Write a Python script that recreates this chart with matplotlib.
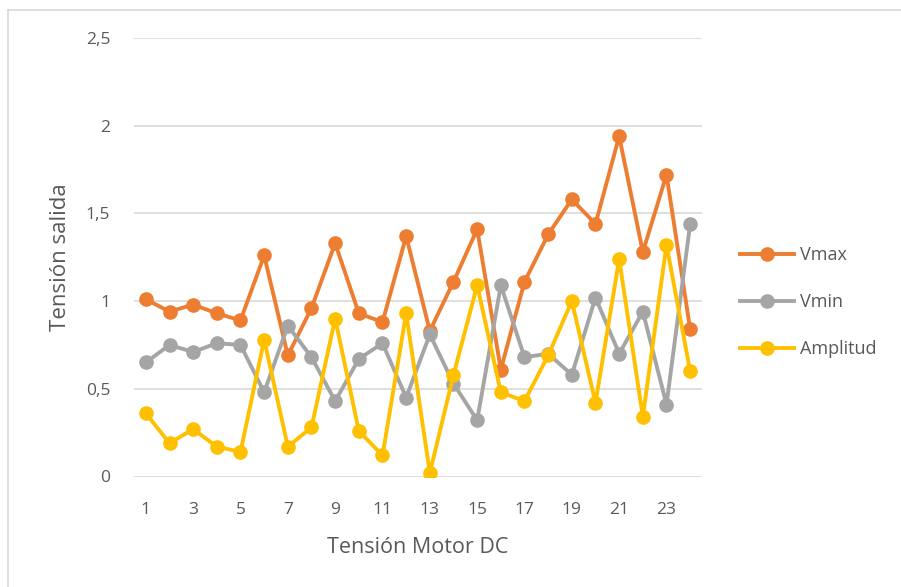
import matplotlib.pyplot as plt
from matplotlib.lines import Line2D

# Lecturas de tension por cada paso del motor
pasos = list(range(1, 25))
vmax = [1.01, 0.94, 0.98, 0.93, 0.89, 1.26, 0.69, 0.96, 1.33, 0.93, 0.88, 1.37,
        0.83, 1.11, 1.41, 0.61, 1.11, 1.38, 1.58, 1.44, 1.94, 1.28, 1.72, 0.84]
vmin = [0.65, 0.75, 0.71, 0.76, 0.75, 0.48, 0.86, 0.68, 0.43, 0.67, 0.76, 0.45,
        0.81, 0.53, 0.32, 1.09, 0.68, 0.70, 0.58, 1.02, 0.70, 0.94, 0.41, 1.44]
amplitud = [0.36, 0.19, 0.27, 0.17, 0.14, 0.78, 0.17, 0.28, 0.90, 0.26, 0.12, 0.93,
            0.02, 0.58, 1.09, 0.48, 0.43, 0.69, 1.00, 0.42, 1.24, 0.34, 1.32, 0.60]
yticks = [0, 0.5, 1, 1.5, 2, 2.5]
ytick_labels = ['0', '0,5', '1', '1,5', '2', '2,5']

plt.rcParams['font.family'] = ['Open Sans', 'DejaVu Sans']
texto = '#595959'

fig = plt.figure(figsize=(9.01, 5.87), dpi=100)
ax = fig.add_axes([134 / 901, 1 - 476.5 / 587, (702 - 134) / 901, (476.5 - 38) / 587])

series = [('Vmax', vmax, '#ED7D31'), ('Vmin', vmin, '#A5A5A5'), ('Amplitud', amplitud, '#FFC000')]
for nombre, valores, color in series:
    ax.plot(pasos, valores, color=color, lw=2.8, marker='o', markersize=9.5,
            solid_capstyle='round', solid_joinstyle='round', label=nombre)

ax.set_xlim(0.5, 24.5)
ax.set_ylim(0, 2.5)
ax.set_yticks(yticks)
ax.set_yticklabels(ytick_labels)
ax.set_xticks(pasos[::2])
ax.grid(axis='y', color='#D9D9D9', lw=1.2)
ax.set_axisbelow(True)
for s in ax.spines.values():
    s.set_visible(False)
ax.tick_params(axis='both', length=0, labelsize=12.5, colors=texto)
ax.tick_params(axis='y', pad=17)
ax.tick_params(axis='x', pad=18)

ax.set_ylabel('Tensión salida', fontsize=16, color=texto, labelpad=11)
ax.set_xlabel('Tensión Motor DC', fontsize=15.5, color=texto, labelpad=14)

handles = [Line2D([], [], color=c, lw=2.8, marker='o', markersize=9.5) for _, _, c in series]
fig.legend(handles, [n for n, _, _ in series], loc='center left',
           bbox_to_anchor=(724 / 901, 1 - 302 / 587), frameon=False,
           fontsize=13, labelcolor=texto, handlelength=3.0, handletextpad=0.3,
           labelspacing=1.6)

# marco del grafico
fig.add_artist(Line2D([8 / 901, 8 / 901], [0, 1 - 10 / 587], color='#D9D9D9', lw=1.2,
                      transform=fig.transFigure))
fig.add_artist(Line2D([8 / 901, 1], [1 - 10 / 587, 1 - 10 / 587], color='#D9D9D9', lw=1.2,
                      transform=fig.transFigure))

fig.savefig('out.png', dpi=100)
